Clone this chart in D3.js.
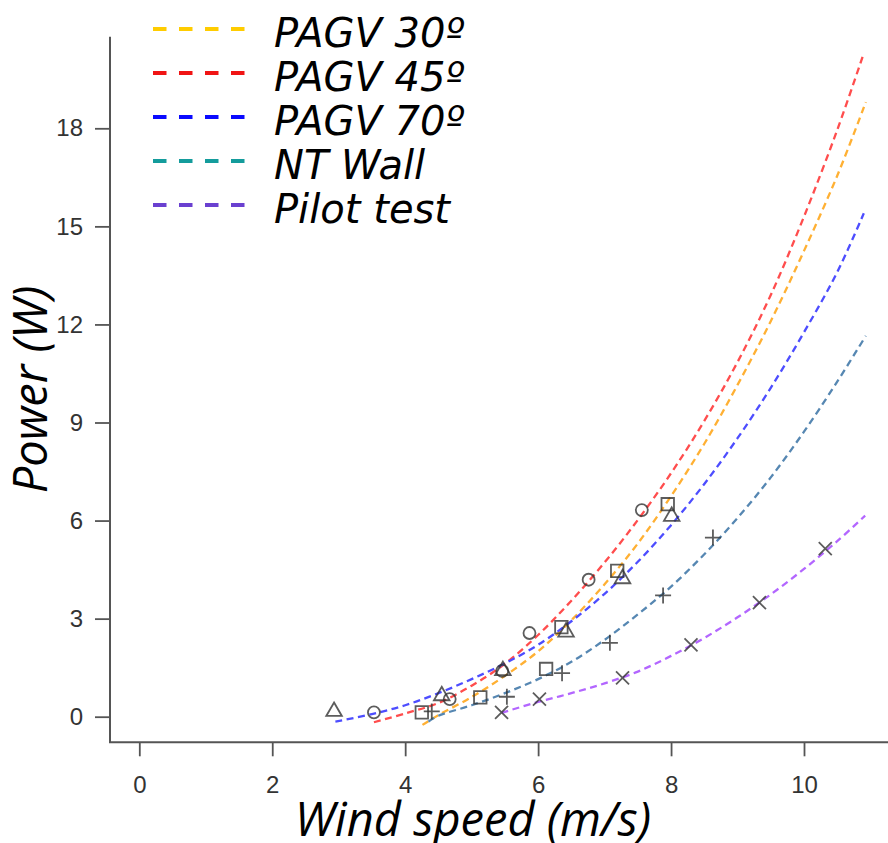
<!DOCTYPE html>
<html>
<head>
<meta charset="utf-8">
<script src="https://cdn.jsdelivr.net/npm/d3@7"></script>
<style>
  body { margin: 0; background: #fff; }
  svg { display: block; }
</style>
</head>
<body>
<div id="chart"></div>
<script>
// tick labels
const speedTicks = [0, 2, 4, 6, 8, 10];
const powerTicks = [0, 3, 6, 9, 12, 15, 18];

// legend entries
const seriesNames = ["PAGV 30º", "PAGV 45º", "PAGV 70º", "NT Wall", "Pilot test"];
const legendColors = ["#ffcc00", "#f01414", "#0a0aff", "#149c9c", "#6a40d0"];
const curveColors = ["#ffb033", "#ff4d4d", "#4d4dff", "#5687b2", "#b366ff"];

// fitted curves (speed m/s, power W)
const fit30Speed = [4.26, 4.5, 5.0, 5.5, 6.0, 6.5, 7.0, 7.5, 8.0, 8.5, 9.0, 9.5, 10.0, 10.5, 10.93];
const fit30Power = [-0.25, 0.05, 0.6, 1.25, 2.0, 2.95, 4.05, 5.3, 6.75, 8.35, 10.15, 12.1, 14.25, 16.55, 18.8];
const fit45Speed = [3.53, 4.0, 4.5, 5.0, 5.5, 6.0, 6.5, 7.0, 7.5, 8.0, 8.5, 9.0, 9.5, 10.0, 10.5, 10.9];
const fit45Power = [-0.17, 0.1, 0.42, 0.95, 1.62, 2.5, 3.55, 4.72, 6.02, 7.45, 9.05, 10.85, 12.9, 15.3, 17.95, 20.3];
const fit70Speed = [2.95, 3.5, 4.0, 4.5, 5.0, 5.5, 6.0, 6.5, 7.0, 7.5, 8.0, 8.5, 9.0, 9.5, 10.0, 10.5, 10.9];
const fit70Power = [-0.15, 0.08, 0.35, 0.72, 1.15, 1.63, 2.2, 2.92, 3.76, 4.74, 5.86, 7.12, 8.52, 10.06, 11.76, 13.6, 15.4];
const fitWallSpeed = [4.35, 4.5, 5.0, 5.5, 6.0, 6.5, 7.0, 7.5, 8.0, 8.5, 9.0, 9.5, 10.0, 10.5, 10.93];
const fitWallPower = [-0.15, 0.03, 0.35, 0.72, 1.15, 1.68, 2.35, 3.13, 3.98, 4.97, 6.08, 7.32, 8.72, 10.25, 11.65];
const fitPilotSpeed = [5.45, 6.0, 6.5, 7.0, 7.5, 8.0, 8.5, 9.0, 9.5, 10.0, 10.5, 10.92];
const fitPilotPower = [0.12, 0.45, 0.72, 1.02, 1.38, 1.86, 2.41, 3.04, 3.74, 4.52, 5.37, 6.15];

// measured points, one array pair per marker shape
const squareSpeed = [4.25, 5.13, 6.12, 6.35, 7.19, 7.95];
const squarePower = [0.13, 0.59, 1.46, 2.74, 4.46, 6.50];
const circleSpeed = [3.53, 4.67, 5.46, 5.87, 6.76, 7.56];
const circlePower = [0.13, 0.54, 1.40, 2.56, 4.19, 6.32];
const triangleSpeed = [2.93, 4.55, 5.47, 6.42, 7.27, 8.01];
const trianglePower = [0.16, 0.64, 1.41, 2.59, 4.22, 6.13];
const plusSpeed = [4.40, 5.53, 6.36, 7.08, 7.88, 8.63];
const plusPower = [0.16, 0.61, 1.33, 2.26, 3.71, 5.48];
const crossSpeed = [5.45, 6.02, 7.27, 8.30, 9.33, 10.32];
const crossPower = [0.13, 0.54, 1.19, 2.20, 3.49, 5.14];

const width = 888, height = 843;
const axisLeftX = 110, axisBottomY = 742.3, axisTopY = 36.7;
const tickFont = "'Liberation Sans Narrow', 'Liberation Sans', Arial, sans-serif";
const titleFont = "'Open Sans', sans-serif";

const svg = d3.select("#chart").append("svg")
    .attr("width", width)
    .attr("height", height);

const x = d3.scaleLinear().domain([0, 10]).range([139.3, 804]);
const y = d3.scaleLinear().domain([0, 18]).range([716.7, 128.3]);

//y axis
const yAxis = svg.append("g")
    .attr("transform", "translate(" + axisLeftX + ",0)")
    .call(d3.axisLeft(y).tickValues(powerTicks).tickSize(15).tickPadding(12));
yAxis.select(".domain").remove();
yAxis.selectAll(".tick line").attr("stroke", "#555").attr("stroke-width", 1.8);
yAxis.selectAll(".tick text")
    .attr("fill", "#333")
    .style("font-family", tickFont)
    .style("font-size", "24px");

//x axis
const xAxis = svg.append("g")
    .attr("transform", "translate(0," + axisBottomY + ")")
    .call(d3.axisBottom(x).tickValues(speedTicks).tickSize(14).tickPadding(20));
xAxis.select(".domain").remove();
xAxis.selectAll(".tick line").attr("stroke", "#555").attr("stroke-width", 1.8);
xAxis.selectAll(".tick text")
    .attr("fill", "#333")
    .style("font-family", tickFont)
    .style("font-size", "24px");

//L shaped frame
svg.append("path")
    .attr("d", "M" + axisLeftX + "," + axisTopY + "V" + axisBottomY + "H" + width)
    .attr("fill", "none")
    .attr("stroke", "#555")
    .attr("stroke-width", 2);

//axis titles
svg.append("text")
    .attr("x", 473)
    .attr("y", 836)
    .attr("text-anchor", "middle")
    .style("font-family", titleFont)
    .style("font-style", "italic")
    .style("font-size", "47px")
    .text("Wind speed (m/s)");

svg.append("text")
    .attr("transform", "translate(47," + ((axisTopY + axisBottomY) / 2) + ") rotate(-90)")
    .attr("text-anchor", "middle")
    .style("font-family", titleFont)
    .style("font-style", "italic")
    .style("font-size", "47px")
    .text("Power (W)");

//fitted curves
const fits = [
    d3.zip(fit30Speed, fit30Power),
    d3.zip(fit45Speed, fit45Power),
    d3.zip(fit70Speed, fit70Power),
    d3.zip(fitWallSpeed, fitWallPower),
    d3.zip(fitPilotSpeed, fitPilotPower)
];
const line = d3.line()
    .x(d => x(d[0]))
    .y(d => y(d[1]))
    .curve(d3.curveCatmullRom);

svg.append("g").selectAll("path")
    .data(fits)
    .join("path")
    .attr("d", line)
    .attr("fill", "none")
    .attr("stroke", (d, i) => curveColors[i])
    .attr("stroke-width", 2.3)
    .attr("stroke-dasharray", "7,4.5");

//stroke only markers for plus and times
const plusSymbol = {
    draw(context, size) {
        const r = Math.sqrt(size) / 2;
        context.moveTo(-r, 0); context.lineTo(r, 0);
        context.moveTo(0, -r); context.lineTo(0, r);
    }
};
const timesSymbol = {
    draw(context, size) {
        const r = Math.sqrt(size) / 2;
        context.moveTo(-r, -r); context.lineTo(r, r);
        context.moveTo(-r, r); context.lineTo(r, -r);
    }
};

const markerSets = [
    {type: d3.symbolSquare, size: 156, pts: d3.zip(squareSpeed, squarePower)},
    {type: d3.symbolCircle, size: 113, pts: d3.zip(circleSpeed, circlePower)},
    {type: d3.symbolTriangle, size: 105, pts: d3.zip(triangleSpeed, trianglePower)},
    {type: plusSymbol, size: 256, pts: d3.zip(plusSpeed, plusPower)},
    {type: timesSymbol, size: 169, pts: d3.zip(crossSpeed, crossPower)}
];

markerSets.forEach(set => {
    svg.append("g").selectAll("path")
        .data(set.pts)
        .join("path")
        .attr("transform", d => "translate(" + x(d[0]) + "," + y(d[1]) + ")")
        .attr("d", d3.symbol().type(set.type).size(set.size))
        .attr("fill", "none")
        .attr("stroke", "#333")
        .attr("stroke-opacity", 0.8)
        .attr("stroke-width", 1.8);
});

//legend
const legend = svg.append("g").selectAll("g")
    .data(seriesNames)
    .join("g")
    .attr("transform", (d, i) => "translate(0," + (47 + i * 44) + ")");

legend.append("line")
    .attr("x1", 153).attr("x2", 246)
    .attr("y1", -18).attr("y2", -18)
    .attr("stroke", (d, i) => legendColors[i])
    .attr("stroke-width", 4)
    .attr("stroke-dasharray", "13.5,12.5");

legend.append("text")
    .attr("x", 274)
    .attr("y", 0)
    .style("font-family", "'DejaVu Sans', Verdana, sans-serif")
    .style("font-style", "italic")
    .style("font-size", "40px")
    .attr("fill", "#000")
    .text(d => d);
</script>
</body>
</html>
